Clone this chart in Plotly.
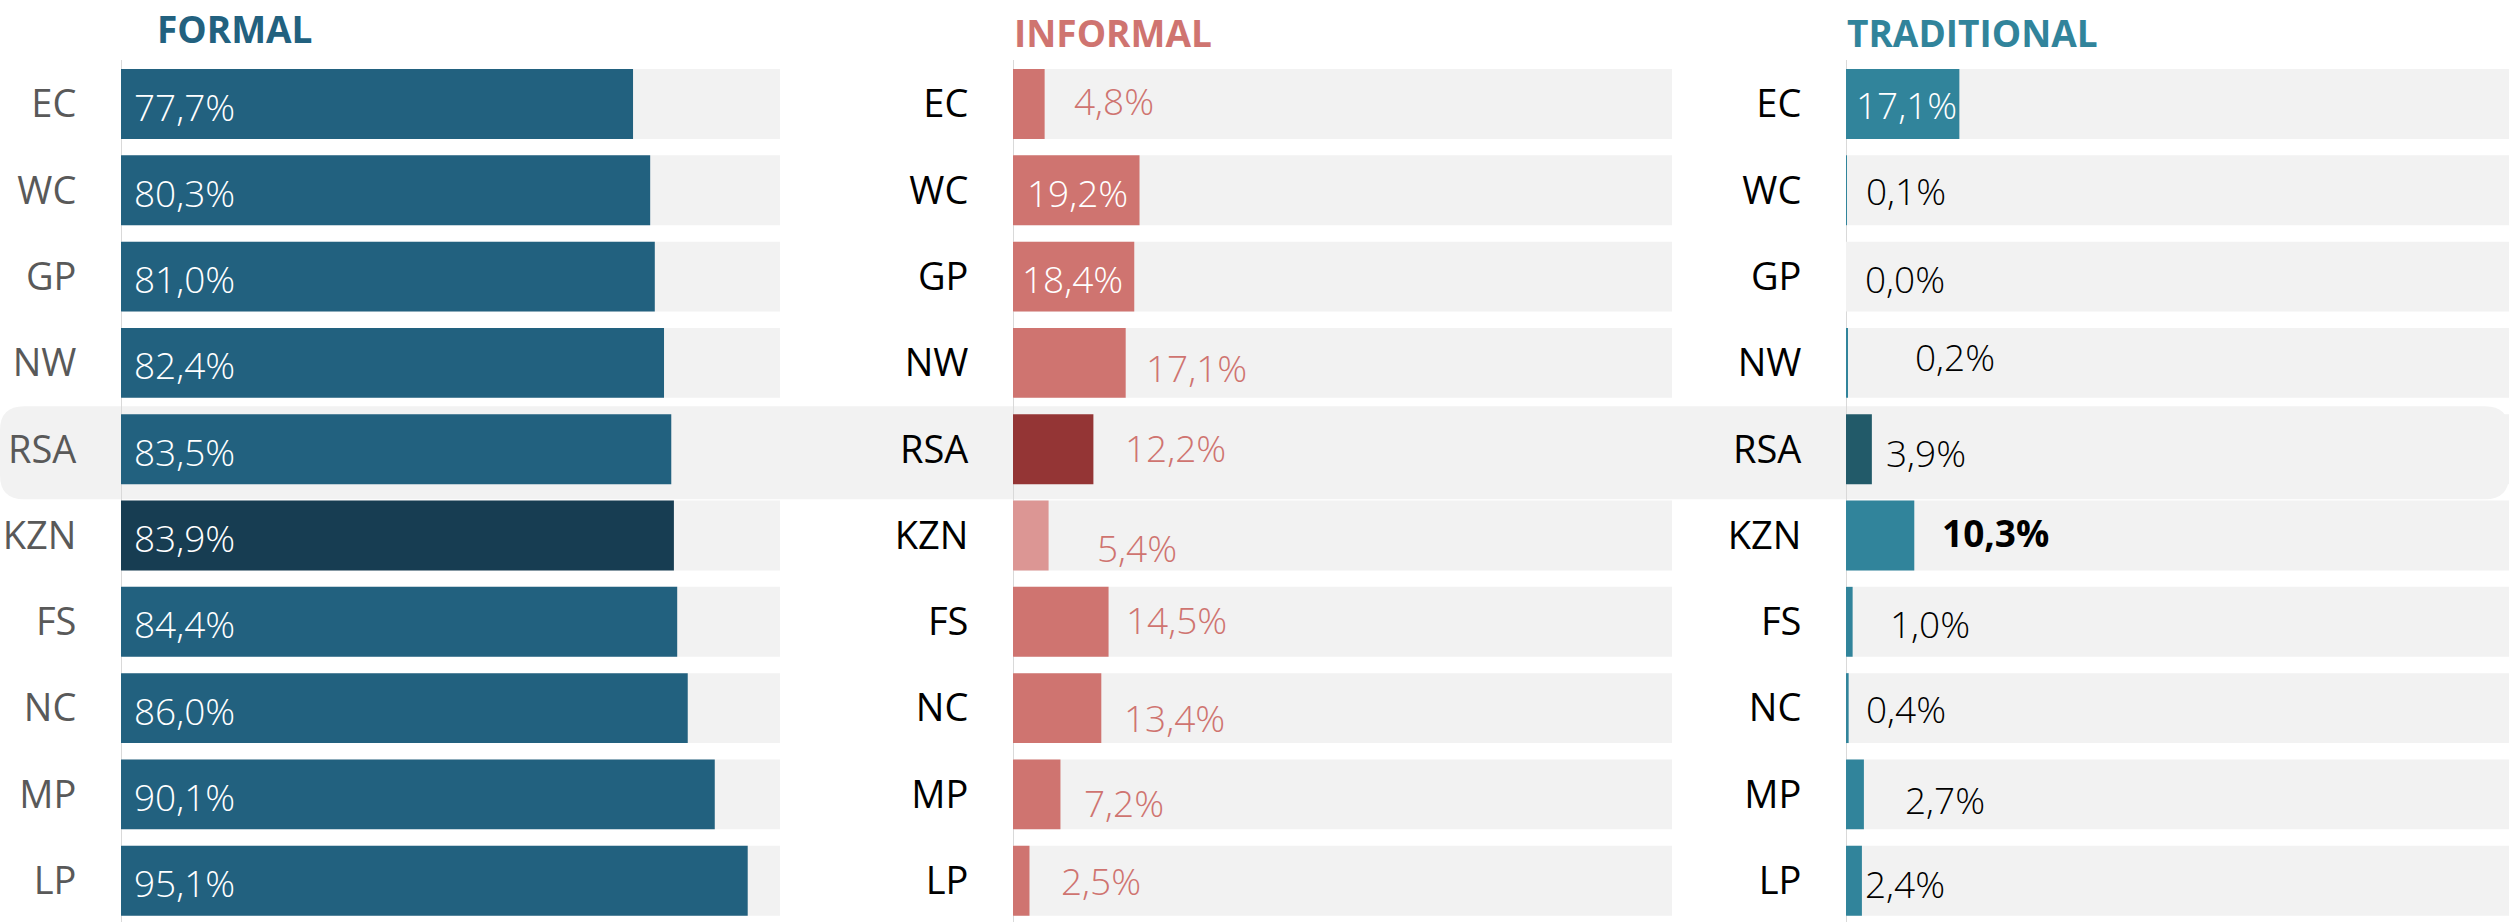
import plotly.graph_objects as go

W, H = 2509, 922

# data
regions = ["EC", "WC", "GP", "NW", "RSA", "KZN", "FS", "NC", "MP", "LP"]
formal = [77.7, 80.3, 81.0, 82.4, 83.5, 83.9, 84.4, 86.0, 90.1, 95.1]
informal = [4.8, 19.2, 18.4, 17.1, 12.2, 5.4, 14.5, 13.4, 7.2, 2.5]
traditional = [17.1, 0.1, 0.0, 0.2, 3.9, 10.3, 1.0, 0.4, 2.7, 2.4]
panel_titles = ["FORMAL", "INFORMAL", "TRADITIONAL"]

# styling
FONT = "Open Sans"
BG = "#f2f2f2"
ROW0, ROWSTEP = 104, 86.3   # px centre of first row, px per row
BAR_W = 0.81


def px(x):
    return x / W


def py(y):
    return 1 - y / H


def pct(v):
    return f"{v:.1f}".replace(".", ",") + "%"


def row_colors(base, rsa=None, kzn=None):
    cols = [base] * len(regions)
    if rsa:
        cols[regions.index("RSA")] = rsa
    if kzn:
        cols[regions.index("KZN")] = kzn
    return cols


panels = [
    dict(vals=formal, title=panel_titles[0], title_col="#22617f", title_x=155, title_y=28,
         dom=(121, 780), tick_col="#595959", out_col="#595959",
         colors=row_colors("#22617f", kzn="#173d52"),
         pos=["in"] * 10, gap=[11] * 10, dy=[2] * 10),
    dict(vals=informal, title=panel_titles[1], title_col="#cf7470", title_x=1012, title_y=32,
         dom=(1013, 1672), tick_col="#000000", out_col="#cf7470",
         colors=row_colors("#cf7470", rsa="#943535", kzn="#dc9694"),
         pos=["out", "in", "in", "out", "out", "out", "out", "out", "out", "out"],
         gap=[27, 12, 7, 18, 30, 46, 15, 21, 22, 30],
         dy=[-4, 2, 2, 5, -2, 12, -2, 9, 8, 0]),
    dict(vals=traditional, title=panel_titles[2], title_col="#31849b", title_x=1845, title_y=32,
         dom=(1846, W), tick_col="#000000", out_col="#000000",
         colors=row_colors("#31849b", rsa="#225a69"),
         pos=["in", "out", "out", "out", "out", "out", "out", "out", "out", "out"],
         gap=[8, 17, 17, 66, 12, 26, 35, 15, 39, 1],
         dy=[0, 0, 2, -6, 3, -3, 2, 0, 5, 3]),
]

fig = go.Figure()
annotations = []
shapes = []

# RSA highlight band (rounded rectangle across the whole width)
ri = regions.index("RSA")
yc = ROW0 + ROWSTEP * ri
top, bot, r = yc - 43, yc + 50, 24
x0, x1 = 0, W
path = (f"M {px(x0 + r)},{py(top)} L {px(x1 - r)},{py(top)} "
        f"Q {px(x1)},{py(top)} {px(x1)},{py(top + r)} "
        f"L {px(x1)},{py(bot - r)} Q {px(x1)},{py(bot)} {px(x1 - r)},{py(bot)} "
        f"L {px(x0 + r)},{py(bot)} Q {px(x0)},{py(bot)} {px(x0)},{py(bot - r)} "
        f"L {px(x0)},{py(top + r)} Q {px(x0)},{py(top)} {px(x0 + r)},{py(top)} Z")
shapes.append(dict(type="path", path=path, xref="paper", yref="paper",
                   fillcolor=BG, line=dict(width=0), layer="below"))

# category index range so that rows land on their pixel positions
yrange = [(H - ROW0) / ROWSTEP, -ROW0 / ROWSTEP]

for k, p in enumerate(panels, start=1):
    xa = "x" if k == 1 else f"x{k}"
    ya = "y" if k == 1 else f"y{k}"
    # background bars
    fig.add_trace(go.Bar(x=[100] * len(regions), y=regions, orientation="h",
                         marker=dict(color=BG, line_width=0), width=BAR_W,
                         xaxis=xa, yaxis=ya, hoverinfo="skip", showlegend=False))
    fig.add_trace(go.Bar(x=p["vals"], y=regions, orientation="h",
                         marker=dict(color=p["colors"], line_width=0), width=BAR_W,
                         xaxis=xa, yaxis=ya, showlegend=False,
                         hovertemplate="%{y}: %{x:.1f}%<extra></extra>"))

    xkey = "xaxis" if k == 1 else f"xaxis{k}"
    ykey = "yaxis" if k == 1 else f"yaxis{k}"
    fig.update_layout({
        xkey: dict(domain=[px(p["dom"][0]), px(p["dom"][1])], range=[0, 100],
                   anchor=ya, visible=False, fixedrange=True, automargin=False),
        ykey: dict(anchor=xa, domain=[0, 1], range=yrange, type="category",
                   categoryorder="array", categoryarray=regions,
                   showgrid=False, zeroline=False, showline=False,
                   ticks="outside", ticklen=36, tickcolor="rgba(0,0,0,0)",
                   tickfont=dict(family=FONT, size=38, color=p["tick_col"]),
                   automargin=False, fixedrange=True),
    })

    # axis line
    shapes.append(dict(type="line", xref=xa, yref="paper", x0=0, x1=0,
                       y0=0, y1=py(60), line=dict(color="#d9d9d9", width=2),
                       layer="below"))

    # panel title
    annotations.append(dict(text=f"<b>{p['title']}</b>", xref="paper", yref="paper",
                            x=px(p["title_x"]), y=py(p["title_y"]), xanchor="left",
                            yanchor="middle", showarrow=False,
                            font=dict(family=FONT, size=37, color=p["title_col"])))

    # value labels
    for i, v in enumerate(p["vals"]):
        inside = p["pos"][i] == "in"
        txt = pct(v)
        weight = 300
        if k == 3 and regions[i] == "KZN":
            txt = f"<b>{txt}</b>"
            weight = 400
        annotations.append(dict(
            text=txt, xref=xa, yref=ya, x=0 if inside else v, y=regions[i],
            xanchor="left", yanchor="middle", showarrow=False,
            xshift=p["gap"][i], yshift=-p["dy"][i],
            font=dict(family=FONT, size=37, weight=weight,
                      color="#ffffff" if inside else p["out_col"])))

fig.update_layout(
    width=W, height=H,
    margin=dict(l=0, r=0, t=0, b=0, autoexpand=False),
    barmode="overlay",
    plot_bgcolor="rgba(0,0,0,0)",
    paper_bgcolor="white",
    font=dict(family=FONT),
    shapes=shapes,
    annotations=annotations,
)

# drop the default page margin so the figure sits at the window's corner
fig.write_html("out.html",
               config={"displayModeBar": False},
               post_script="document.body.style.margin='0';document.body.style.overflow='hidden';")
